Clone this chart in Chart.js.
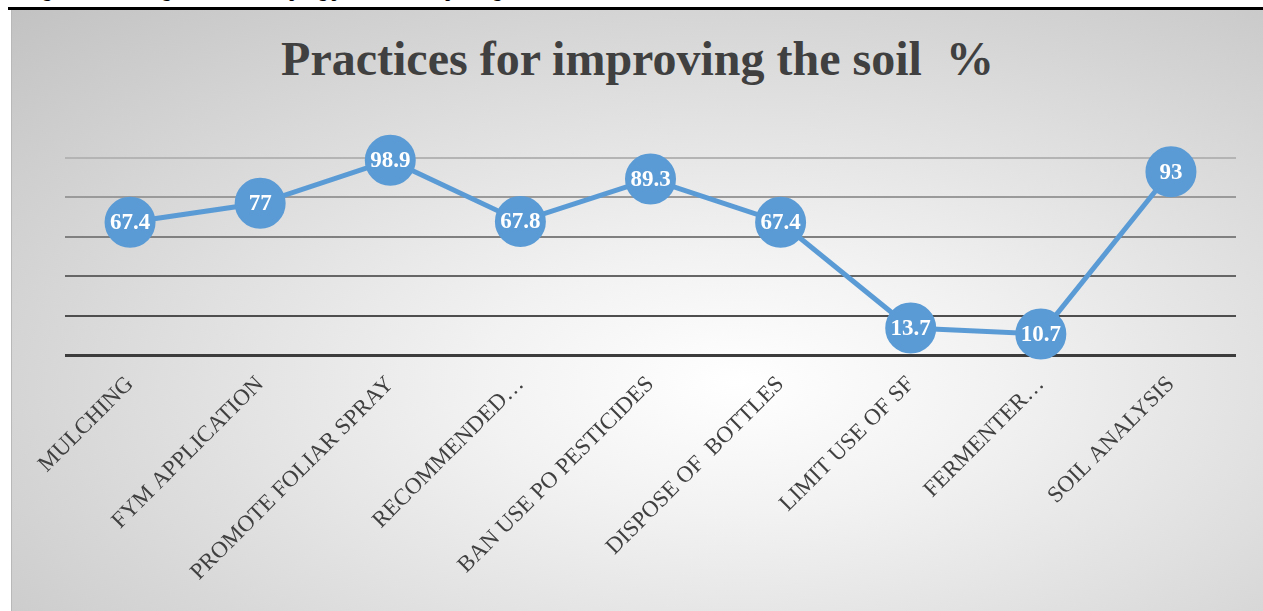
<!DOCTYPE html>
<html>
<head>
<meta charset="utf-8">
<script src="https://cdn.jsdelivr.net/npm/chart.js@4"></script>
<style>
  html, body { margin: 0; padding: 0; background: #fff; width: 1263px; height: 611px; overflow: hidden; }
  #caption {
    position: absolute; left: 28px; top: -18px; white-space: nowrap;
    font: bold 17px "Liberation Serif", "Times New Roman", serif; color: #000;
  }
  #rule { position: absolute; left: 8px; top: 7px; width: 1255px; height: 3px; background: #000; }
  #box {
    position: absolute; left: 11px; top: 10px; width: 1252px; height: 601px;
    background: radial-gradient(ellipse farthest-corner at 58% 62%, #ffffff 0%, #f2f2f2 25%, #c2c2c2 100%);
    border-left: 1px solid #b8b8b8;
    box-sizing: border-box;
  }
  #title {
    position: absolute; left: 0; width: 100%; top: 21px; text-align: center;
    font: bold 48px "Liberation Serif", "Times New Roman", serif; color: #404040;
    white-space: pre;
  }
  #chartWrap { position: absolute; left: 0; top: 0; width: 1252px; height: 601px; }
</style>
</head>
<body>
<div id="caption">Figure 6: Percentage of farmers adopting practices for improving the soil</div>
<div id="rule"></div>
<div id="box">
  <div id="title">Practices for improving the soil  %</div>
  <div id="chartWrap"><canvas id="soilChart"></canvas></div>
</div>
<script>
const practices = [
  "MULCHING",
  "FYM APPLICATION",
  "PROMOTE FOLIAR SPRAY",
  "RECOMMENDED\u2026",
  "BAN USE PO PESTICIDES",
  "DISPOSE OF  BOTTLES",
  "LIMIT USE OF SF",
  "FERMENTER\u2026",
  "SOIL ANALYSIS"
]
const percentages = [67.4, 77, 98.9, 67.8, 89.3, 67.4, 13.7, 10.7, 93]

const yMin = 0
const yMax = 100
const yStep = 20

// grid lines get darker toward the bottom
const gridShades = ['#3c3c3c', '#4e4e4e', '#666666', '#808080', '#9a9a9a', '#b4b4b4']

// white numbers drawn inside each marker
const valueLabels = {
  id: 'valueLabels',
  afterDatasetsDraw(chart) {
    const ctx = chart.ctx
    const meta = chart.getDatasetMeta(0)
    ctx.save()
    ctx.fillStyle = '#ffffff'
    ctx.font = 'bold 23px "Liberation Serif", "Times New Roman", serif'
    ctx.textAlign = 'center'
    ctx.textBaseline = 'middle'
    meta.data.forEach(function(pt, i) {
      ctx.fillText(String(percentages[i]), pt.x, pt.y + 1)
    })
    ctx.restore()
  }
}

new Chart(document.getElementById('soilChart'), {
  type: 'line',
  data: {
    labels: practices,
    datasets: [{
      data: percentages,
      borderColor: '#5b9bd5',
      borderWidth: 5,
      backgroundColor: '#5b9bd5',
      pointBackgroundColor: '#5b9bd5',
      pointBorderColor: '#5b9bd5',
      pointRadius: 23,
      pointHoverRadius: 23,
      tension: 0,
      clip: false
    }]
  },
  options: {
    responsive: true,
    maintainAspectRatio: false,
    animation: false,
    events: [],
    layout: { padding: { top: 148, left: 53, right: 24, bottom: 0 } },
    plugins: {
      legend: { display: false },
      title: { display: false },
      tooltip: { enabled: false }
    },
    scales: {
      x: {
        offset: true,
        border: { display: false },
        grid: { display: false, drawTicks: false },
        ticks: {
          minRotation: 45,
          maxRotation: 45,
          autoSkip: false,
          padding: 16,
          color: '#404040',
          font: { family: '"Liberation Serif", "Times New Roman", serif', size: 23 }
        },
        afterFit: function(scale) { scale.height = 256 }
      },
      y: {
        min: yMin,
        max: yMax,
        border: { display: false },
        grid: {
          drawTicks: false,
          lineWidth: function(c) { return c.index === 0 ? 3 : 2 },
          color: function(c) { return gridShades[c.index] || '#b4b4b4' }
        },
        ticks: { display: false, stepSize: yStep },
        afterFit: function(scale) { scale.width = 0 }
      }
    }
  },
  plugins: [valueLabels]
})
</script>
</body>
</html>
